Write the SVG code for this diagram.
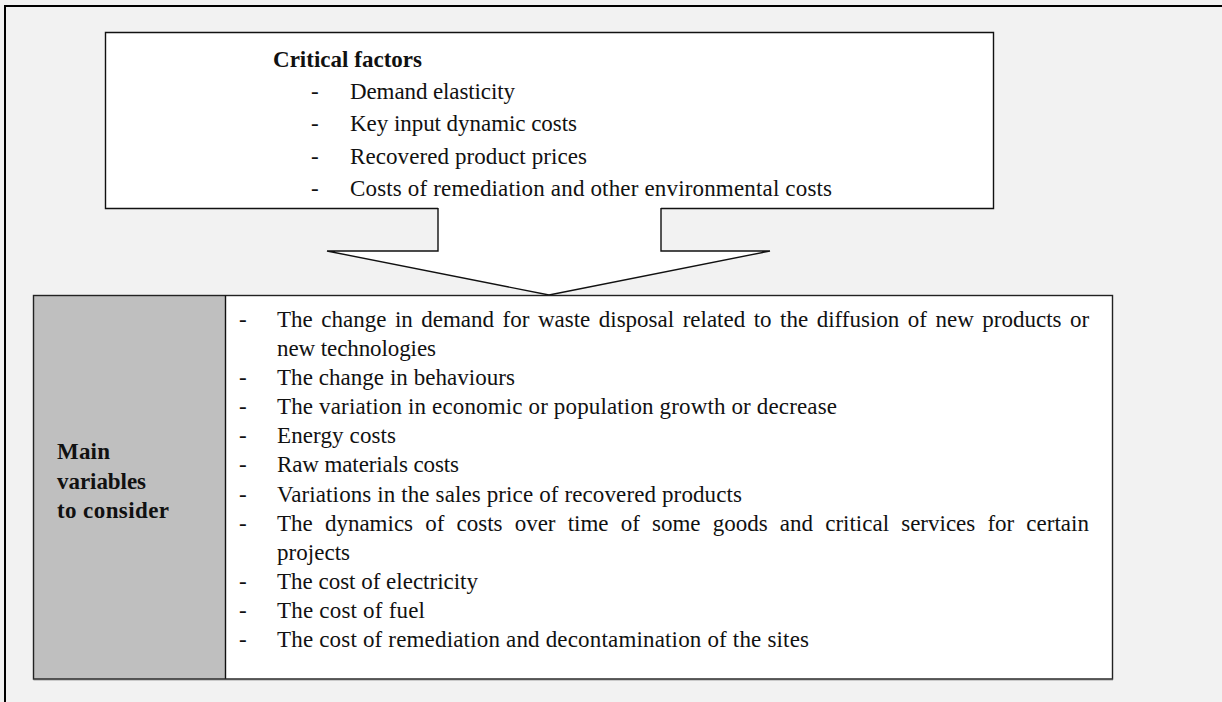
<svg xmlns="http://www.w3.org/2000/svg" width="1222" height="702" viewBox="0 0 1222 702">
<style>
.t{font-family:"Liberation Serif","Times New Roman",serif;font-size:23px;fill:#111}
.b{font-weight:bold}
.ln{fill:none;stroke:#111;stroke-width:1.4}
</style>
<rect x="0" y="0" width="1222" height="702" fill="#f2f2f2"/>
<path d="M5,702 V6 H1222" fill="none" stroke="#000" stroke-width="2"/>
<g id="critical-factors">
<rect x="105.5" y="32.5" width="888" height="176" fill="#fff"/>
<path class="ln" d="M438,208.5 H105.5 V32.5 H993.5 V208.5 H661"/>
<text class="t b" x="273" y="67" textLength="149">Critical factors</text>
<text class="t" x="311" y="99">-</text>
<text class="t" x="350" y="99" textLength="165">Demand elasticity</text>
<text class="t" x="311" y="131">-</text>
<text class="t" x="350" y="131" textLength="227">Key input dynamic costs</text>
<text class="t" x="311" y="164">-</text>
<text class="t" x="350" y="164" textLength="237">Recovered product prices</text>
<text class="t" x="311" y="196">-</text>
<text class="t" x="350" y="196" textLength="482">Costs of remediation and other environmental costs</text>
</g>
<g id="connectors">
<polygon points="438,207 438,251 327,251 549,295 770,251 661,251 661,207" fill="#fff"/>
<polyline class="ln" points="438,208 438,251 327,251 549,295 770,251 661,251 661,208"/>
</g>
<g id="main-variables">
<rect x="33.5" y="295.5" width="1079" height="383.5" fill="#fff"/>
<rect x="33.5" y="295.5" width="192" height="383.5" fill="#bfbfbf"/>
<rect x="33.5" y="295.5" width="1079" height="383.5" fill="none" stroke="#222" stroke-width="1.4"/>
<line x1="225.5" y1="295.5" x2="225.5" y2="679" stroke="#111" stroke-width="1.4"/>
<line x1="33.5" y1="679.5" x2="1113" y2="679.5" stroke="#555" stroke-width="1.6"/>
<text class="t b" x="57" y="459" textLength="53">Main</text>
<text class="t b" x="57" y="489" textLength="89">variables</text>
<text class="t b" x="57" y="518" textLength="112">to consider</text>
<text class="t" x="239" y="327">-</text>
<text class="t" x="277" y="327" word-spacing="2.75">The change in demand for waste disposal related to the diffusion of new products or</text>
<text class="t" x="277" y="356" textLength="159">new technologies</text>
<text class="t" x="239" y="385">-</text>
<text class="t" x="277" y="385" textLength="238">The change in behaviours</text>
<text class="t" x="239" y="414">-</text>
<text class="t" x="277" y="414" textLength="560">The variation in economic or population growth or decrease</text>
<text class="t" x="239" y="443">-</text>
<text class="t" x="277" y="443" textLength="119">Energy costs</text>
<text class="t" x="239" y="472">-</text>
<text class="t" x="277" y="472" textLength="182">Raw materials costs</text>
<text class="t" x="239" y="502">-</text>
<text class="t" x="277" y="502" textLength="465">Variations in the sales price of recovered products</text>
<text class="t" x="239" y="531">-</text>
<text class="t" x="277" y="531" word-spacing="6.4">The dynamics of costs over time of some goods and critical services for certain</text>
<text class="t" x="277" y="560" textLength="73">projects</text>
<text class="t" x="239" y="589">-</text>
<text class="t" x="277" y="589" textLength="201">The cost of electricity</text>
<text class="t" x="239" y="618">-</text>
<text class="t" x="277" y="618" textLength="148">The cost of fuel</text>
<text class="t" x="239" y="647">-</text>
<text class="t" x="277" y="647" textLength="532">The cost of remediation and decontamination of the sites</text>
</g>
</svg>
